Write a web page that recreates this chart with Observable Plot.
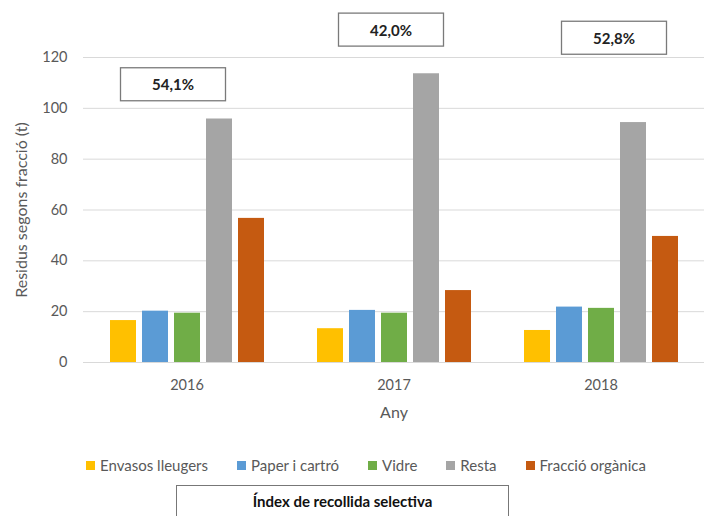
<!DOCTYPE html>
<html>
<head>
<meta charset="utf-8">
<script src="https://cdn.jsdelivr.net/npm/d3@7"></script>
<script src="https://cdn.jsdelivr.net/npm/@observablehq/plot@0.6"></script>
<style>
  html, body { margin: 0; padding: 0; background: #fff; }
  #wrap { position: relative; width: 711px; height: 516px; overflow: hidden; font-family: Lato, "Open Sans", sans-serif; }
  #legend { position: absolute; top: 456px; left: 0; width: 732px; display: flex; justify-content: center; gap: 29px; font-size: 15px; color: #595959; }
  #legend .item { display: flex; align-items: center; gap: 5px; }
  #legend .sw { width: 9px; height: 9px; display: inline-block; }
  #box { position: absolute; left: 176px; top: 485px; width: 333px; height: 40px; border: 1px solid #777; box-sizing: border-box; text-align: center; font-weight: bold; font-size: 15px; color: #111; padding-top: 6px; }
</style>
</head>
<body>
<div id="wrap"><div id="chart"></div><div id="legend"></div><div id="box"></div></div>
<script>
const years = ["2016", "2017", "2018"];
const series = ["Envasos lleugers", "Paper i cartró", "Vidre", "Resta", "Fracció orgànica"];
const envasos = [16.5, 13.3, 12.6];
const paper = [20.2, 20.5, 21.8];
const vidre = [19.4, 19.4, 21.3];
const resta = [95.8, 113.6, 94.4];
const organica = [56.7, 28.3, 49.6];
const indexLabels = ["54,1%", "42,0%", "52,8%"];
const yTicks = [0, 20, 40, 60, 80, 100, 120];
const colors = ["#FFC000", "#5B9BD5", "#70AD47", "#A5A5A5", "#C55A11"];
const boxTitle = "Índex de recollida selectiva";

const valuesBySeries = [envasos, paper, vidre, resta, organica];
const data = years.flatMap((year, i) =>
  series.map((s, j) => ({year, series: s, value: valuesBySeries[j][i]}))
);
const indexRows = years.map((year, i) => ({year, label: indexLabels[i]}));

// placement of the index boxes (style, not data)
const boxPlacement = [{dx: -14, y: 109}, {dx: -3, y: 130.5}, {dx: 13, y: 127.3}];

const chart = Plot.plot({
  width: 711,
  height: 430,
  marginLeft: 82,
  marginRight: 6,
  marginTop: 57,
  marginBottom: 68,
  style: {fontFamily: "Lato, 'Open Sans', sans-serif", fontSize: "14px", color: "#595959", background: "#fff", overflow: "visible"},
  fx: {domain: years, padding: 0},
  x: {domain: series, axis: null, paddingInner: 0.2, paddingOuter: 0.8},
  y: {domain: [0, 120], axis: null},
  color: {domain: series, range: colors},
  marks: [
    Plot.gridY(yTicks, {stroke: "#d9d9d9", strokeOpacity: 1, strokeWidth: 1}),
    Plot.axisY(yTicks, {tickSize: 0, tickPadding: 16, fontSize: 14.5, fill: "#595959",
      label: "Residus segons fracció (t)", labelAnchor: "center", labelOffset: 68, labelArrow: "none"}),
    Plot.axisFx({anchor: "bottom", tickSize: 0, tickPadding: 17, fontSize: 14.5, fill: "#595959",
      label: "Any", labelAnchor: "center", labelOffset: 55, labelArrow: "none"}),
    Plot.barY(data, {fx: "year", x: "series", y: "value", fill: "series"}),
    ...indexRows.map((row, i) => Plot.text([row], {
      fx: "year", y: () => boxPlacement[i].y, dx: boxPlacement[i].dx, text: "label",
      fontWeight: "bold", fontSize: 15, fill: "#222", className: "idx"
    }))
  ]
});
document.getElementById("chart").appendChild(chart);

// frame each index label with a box sized like the reference
d3.select(chart).selectAll("g.idx text").each(function() {
  const bb = this.getBBox();
  const cx = bb.x + bb.width / 2, cy = bb.y + bb.height / 2;
  d3.select(this.parentNode).insert("rect", () => this)
    .attr("transform", this.getAttribute("transform"))
    .attr("x", cx - 52.5).attr("y", cy - 16.5)
    .attr("width", 105).attr("height", 33)
    .attr("fill", "#fff").attr("stroke", "#7a7a7a").attr("stroke-width", 1.3);
});
// style axis labels
d3.select(chart).selectAll("text").filter(function() {
  return this.textContent === "Residus segons fracció (t)" || this.textContent === "Any";
}).style("font-size", "16px");

const legend = d3.select("#legend");
series.forEach((s, i) => {
  const it = legend.append("div").attr("class", "item");
  it.append("span").attr("class", "sw").style("background", colors[i]);
  it.append("span").text(s);
});
document.getElementById("box").textContent = boxTitle;
</script>
</body>
</html>
